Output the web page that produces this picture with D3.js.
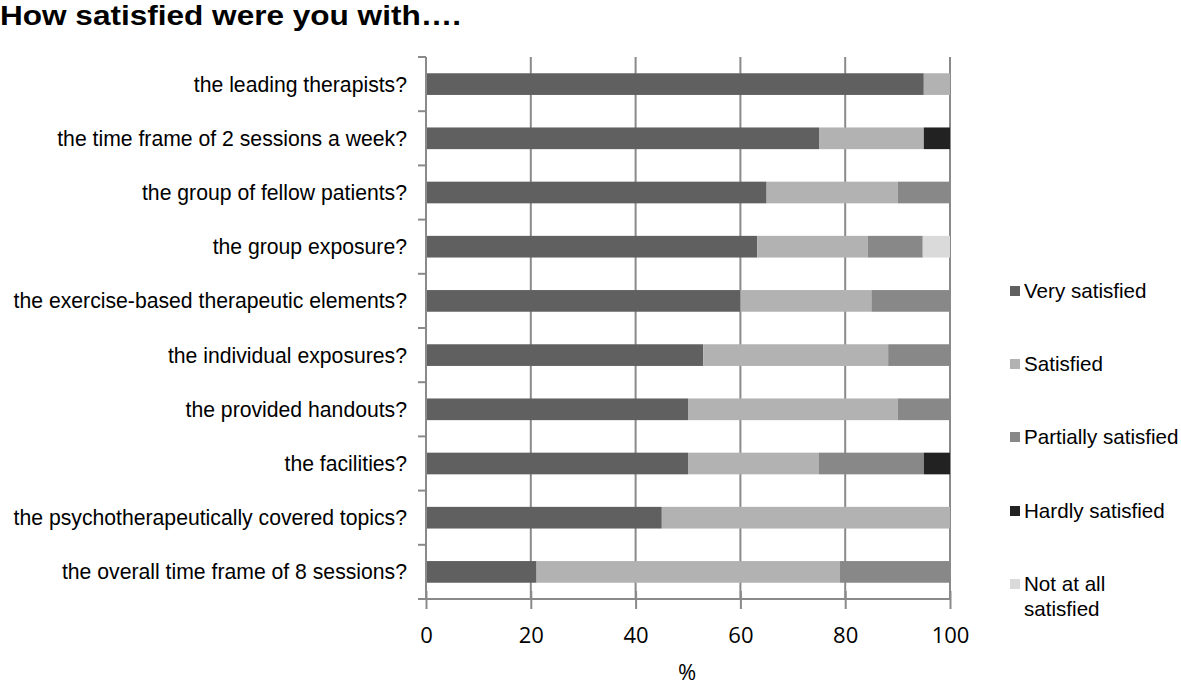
<!DOCTYPE html>
<html>
<head>
<meta charset="utf-8">
<script src="https://cdn.jsdelivr.net/npm/d3@7"></script>
<style>
body{margin:0;background:#fff;}
svg{display:block;}
</style>
</head>
<body>
<svg id="chart" width="1181" height="686"></svg>
<script>
const categories = [
  "the leading therapists?",
  "the time frame of 2 sessions a week?",
  "the group of fellow patients?",
  "the group exposure?",
  "the exercise-based therapeutic elements?",
  "the individual exposures?",
  "the provided handouts?",
  "the facilities?",
  "the psychotherapeutically covered topics?",
  "the overall time frame of 8 sessions?"
];
const seriesNames = ["Very satisfied","Satisfied","Partially satisfied","Hardly satisfied","Not at all satisfied"];
const verySatisfied      = [95, 75, 65, 63.2, 60, 52.9, 50, 50, 45, 21.1];
const satisfied          = [5, 20, 25, 21.1, 25, 35.3, 40, 25, 55, 57.9];
const partiallySatisfied = [0, 0, 10, 10.5, 15, 11.8, 10, 20, 0, 21.0];
const hardlySatisfied    = [0, 5, 0, 0, 0, 0, 0, 5, 0, 0];
const notAtAllSatisfied  = [0, 0, 0, 5.2, 0, 0, 0, 0, 0, 0];
const xTicks = [0, 20, 40, 60, 80, 100];
const colors = ["#606060", "#b2b2b2", "#888888", "#222222", "#dadada"];

const seriesValues = [verySatisfied, satisfied, partiallySatisfied, hardlySatisfied, notAtAllSatisfied];
const rows = categories.map((c, i) => {
  const r = {cat: c};
  seriesNames.forEach((s, j) => r[s] = seriesValues[j][i]);
  return r;
});

const svg = d3.select("#chart");
const m = {left: 426, right: 950, top: 57, bottom: 599};

const x = d3.scaleLinear().domain([0, 100]).range([m.left, m.right]);
const y = d3.scaleBand().domain(categories).range([m.top, m.bottom]).paddingInner(0.6).paddingOuter(0.3);
const yOuter = d3.scaleBand().domain(categories).range([m.top, m.bottom]);

// title
svg.append("text").attr("x", 0).attr("y", 25)
  .attr("font-family", "Liberation Sans, Arial, sans-serif").attr("font-weight", "bold")
  .attr("font-size", 28).attr("fill", "#000")
  .attr("textLength", 461).attr("lengthAdjust", "spacingAndGlyphs")
  .text("How satisfied were you with….");

// gridlines
svg.append("g").selectAll("line").data(xTicks.slice(1)).join("line")
  .attr("x1", d => x(d)).attr("x2", d => x(d))
  .attr("y1", m.top).attr("y2", m.bottom)
  .attr("stroke", "#8a8a8a").attr("stroke-width", 2);

// bars
const stack = d3.stack().keys(seriesNames);
const stacked = stack(rows);
svg.append("g").selectAll("g").data(stacked).join("g")
  .attr("fill", (d, i) => colors[i])
  .selectAll("rect").data(d => d).join("rect")
  .attr("x", d => x(d[0]))
  .attr("width", d => Math.max(0, x(d[1]) - x(d[0])))
  .attr("y", d => y(d.data.cat))
  .attr("height", y.bandwidth());

// y axis line and ticks at category boundaries
const yAxisG = svg.append("g");
yAxisG.append("line").attr("x1", m.left).attr("x2", m.left)
  .attr("y1", m.top).attr("y2", m.bottom + 1)
  .attr("stroke", "#8a8a8a").attr("stroke-width", 2);
const boundaries = categories.map(c => yOuter(c)).concat([m.bottom]);
yAxisG.selectAll("line.tk").data(boundaries).join("line").attr("class", "tk")
  .attr("x1", m.left - 8).attr("x2", m.left)
  .attr("y1", d => d).attr("y2", d => d)
  .attr("stroke", "#8a8a8a").attr("stroke-width", 2);

// category labels
svg.append("g").selectAll("text").data(categories).join("text")
  .attr("x", 407).attr("y", d => yOuter(d) + yOuter.bandwidth() / 2)
  .attr("dy", "0.35em").attr("text-anchor", "end")
  .attr("font-family", "Liberation Sans, Arial, sans-serif").attr("font-size", 21.2)
  .attr("fill", "#000").text(d => d);

// x axis
const xAxis = d3.axisBottom(x).tickValues(xTicks).tickSize(10).tickPadding(0);
const xg = svg.append("g").attr("transform", `translate(0,${m.bottom})`).call(xAxis);
xg.select(".domain").attr("d", `M${m.left - 8},0H${m.right}`).attr("stroke", "#8a8a8a").attr("stroke-width", 2);
xg.selectAll(".tick line").attr("stroke", "#8a8a8a").attr("stroke-width", 2).attr("y1", -8).attr("y2", 10);
xg.selectAll(".tick text").attr("font-family", "Open Sans, sans-serif").attr("font-size", 22)
  .attr("fill", "#000").attr("dy", null).attr("y", 44);

svg.append("text").attr("x", 687).attr("y", 680)
  .attr("text-anchor", "middle").attr("font-family", "Open Sans, sans-serif")
  .attr("font-size", 22).attr("fill", "#000").text("%");

// legend
const legendY = [291, 364, 437, 511, 584];
const lg = svg.append("g").selectAll("g").data(seriesNames).join("g")
  .attr("transform", (d, i) => `translate(1010,${legendY[i]})`);
lg.append("rect").attr("x", 0).attr("y", -5).attr("width", 10).attr("height", 10)
  .attr("fill", (d, i) => colors[i]);
lg.append("text").attr("x", 14).attr("y", 0).attr("dy", "0.35em")
  .attr("font-family", "Liberation Sans, Arial, sans-serif").attr("font-size", 20.6)
  .attr("fill", "#000")
  .each(function(d) {
    const t = d3.select(this);
    if (d === "Not at all satisfied") {
      t.append("tspan").attr("x", 14).text("Not at all");
      t.append("tspan").attr("x", 14).attr("dy", "1.22em").text("satisfied");
    } else t.text(d);
  });
</script>
</body>
</html>
